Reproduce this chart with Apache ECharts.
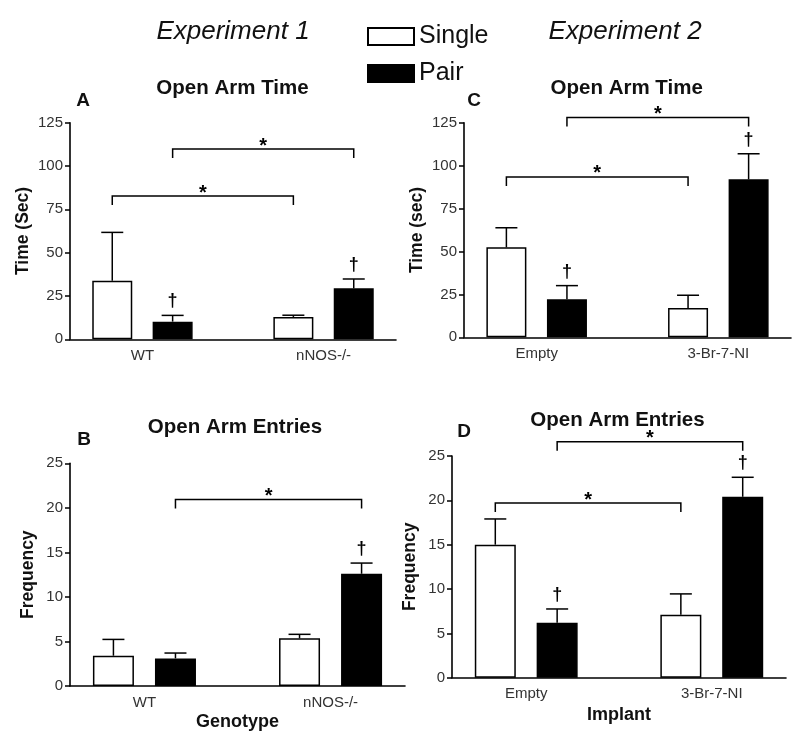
<!DOCTYPE html>
<html>
<head>
<meta charset="utf-8">
<script src="https://cdn.jsdelivr.net/npm/echarts@6/dist/echarts.min.js"></script>
<style>
html,body{margin:0;padding:0;background:#ffffff;}
#chart{width:800px;height:751px;}
</style>
</head>
<body>
<div id="chart"></div>
<script>
// ---------------- DATA ----------------
const seriesNames = ['Single', 'Pair'];
const groupsExp1 = ['WT', 'nNOS-/-'];
const groupsExp2 = ['Empty', '3-Br-7-NI'];

// Panel A – Experiment 1, Open Arm Time (sec)
const timeSingle1 = [33.8, 12.9];
const timeSingleSem1 = [27.9, 1.0];
const timePair1 = [10.2, 29.4];
const timePairSem1 = [3.6, 5.4];
const timeBrackets1 = [['Single', 82.7], ['Pair', 109.8]];
const timeDaggers1 = [['Pair', 0], ['Pair', 1]];

// Panel B – Experiment 1, Open Arm Entries (frequency)
const entrySingle1 = [3.4, 5.35];
const entrySingleSem1 = [1.83, 0.45];
const entryPair1 = [3.1, 12.6];
const entryPairSem1 = [0.6, 1.2];
const entryBrackets1 = [['Pair', 20.95]];
const entryDaggers1 = [['Pair', 1]];

// Panel C – Experiment 2, Open Arm Time (sec)
const timeSingle2 = [52.4, 17.1];
const timeSingleSem2 = [11.4, 7.4];
const timePair2 = [22.1, 92.0];
const timePairSem2 = [8.0, 14.9];
const timeBrackets2 = [['Single', 93.4], ['Pair', 128.1]];
const timeDaggers2 = [['Pair', 0], ['Pair', 1]];

// Panel D – Experiment 2, Open Arm Entries (frequency)
const entrySingle2 = [15.0, 7.1];
const entrySingleSem2 = [2.9, 2.35];
const entryPair2 = [6.2, 20.4];
const entryPairSem2 = [1.55, 2.2];
const entryBrackets2 = [['Single', 19.7], ['Pair', 26.6]];
const entryDaggers2 = [['Pair', 0], ['Pair', 1]];

// y-axis ticks: [min, max, interval]
const timeTicks = [0, 125, 25];
const entryTicks = [0, 25, 5];

// ---------------- LAYOUT ----------------
const FONT = "'Liberation Sans', Arial, Helvetica, sans-serif";
const SLOT = { Single: 0.7, Pair: 1.7 };   // position of each bar inside a group (axis units)
const GROUP_STEP = 3;
const LABEL_AT = 1.2;
const X_MAX = 5.4;
const CAP = 11, DROP = 9;

const panels = [
  { grid: {left: 70, top: 122.7, width: 326, height: 216.6}, groups: groupsExp1,
    single: timeSingle1, singleSem: timeSingleSem1, pair: timePair1, pairSem: timePairSem1,
    brackets: timeBrackets1, daggers: timeDaggers1, ticks: timeTicks,
    yName: 'Time (Sec)', yGap: 38, xName: '', xGap: 0, barWidth: 40 },
  { grid: {left: 70, top: 463.3, width: 335, height: 222.7}, groups: groupsExp1,
    single: entrySingle1, singleSem: entrySingleSem1, pair: entryPair1, pairSem: entryPairSem1,
    brackets: entryBrackets1, daggers: entryDaggers1, ticks: entryTicks,
    yName: 'Frequency', yGap: 33, xName: 'Genotype', xGap: 27, barWidth: 41 },
  { grid: {left: 464, top: 122.7, width: 327, height: 214.6}, groups: groupsExp2,
    single: timeSingle2, singleSem: timeSingleSem2, pair: timePair2, pairSem: timePairSem2,
    brackets: timeBrackets2, daggers: timeDaggers2, ticks: timeTicks,
    yName: 'Time (sec)', yGap: 38, xName: '', xGap: 0, barWidth: 40 },
  { grid: {left: 452, top: 456, width: 334, height: 221.7}, groups: groupsExp2,
    single: entrySingle2, singleSem: entrySingleSem2, pair: entryPair2, pairSem: entryPairSem2,
    brackets: entryBrackets2, daggers: entryDaggers2, ticks: entryTicks,
    yName: 'Frequency', yGap: 33, xName: 'Implant', xGap: 28, barWidth: 41 }
];

const xPos = (name, g) => g * GROUP_STEP + SLOT[name];

const grids = [], xAxes = [], yAxes = [], series = [];

panels.forEach((p, i) => {
  grids.push(Object.assign({ containLabel: false }, p.grid));
  const groups = p.groups;
  // visible x axis (Single series + labels)
  xAxes.push({
    type: 'value', gridIndex: i, min: 0, max: X_MAX,
    axisLine: { show: true, onZero: false, lineStyle: { color: '#000', width: 1.6 } },
    axisTick: { show: false },
    splitLine: { show: false },
    axisLabel: {
      customValues: groups.map((_, g) => g * GROUP_STEP + LABEL_AT),
      formatter: v => groups[Math.round((v - LABEL_AT) / GROUP_STEP)] || '',
      color: '#333', fontSize: 15, fontFamily: FONT, margin: 9
    },
    name: p.xName, nameLocation: 'middle', nameGap: p.xGap,
    nameTextStyle: { fontSize: 18, fontWeight: 'bold', color: '#111', fontFamily: FONT }
  });
  // hidden companion x axis (Pair series), same scale
  xAxes.push({
    type: 'value', gridIndex: i, min: 0, max: X_MAX, show: false, position: 'top',
    splitLine: { show: false }
  });
  yAxes.push({
    type: 'value', gridIndex: i, min: p.ticks[0], max: p.ticks[1], interval: p.ticks[2],
    axisLine: { show: true, onZero: false, lineStyle: { color: '#000', width: 1.6 } },
    axisTick: { show: true, length: 5, lineStyle: { color: '#000', width: 1.5 } },
    splitLine: { show: false },
    axisLabel: { color: '#333', fontSize: 15, fontFamily: FONT, margin: 7 },
    name: p.yName, nameLocation: 'middle', nameGap: p.yGap,
    nameTextStyle: { fontSize: 17.5, fontWeight: 'bold', color: '#111', fontFamily: FONT }
  });

  const sets = {
    Single: { vals: p.single, sem: p.singleSem, fill: '#ffffff', axis: 2 * i },
    Pair: { vals: p.pair, sem: p.pairSem, fill: '#000000', axis: 2 * i + 1 }
  };

  seriesNames.forEach(name => {
    const s = sets[name];
    series.push({
      type: 'bar', name: name, xAxisIndex: s.axis, yAxisIndex: i,
      barWidth: p.barWidth, z: 2,
      itemStyle: { color: s.fill, borderColor: '#000', borderWidth: 1.5 },
      data: s.vals.map((v, g) => [xPos(name, g), v])
    });
  });

  // error bars (upper only)
  const errData = [];
  seriesNames.forEach(name => {
    const s = sets[name];
    s.vals.forEach((v, g) => errData.push([xPos(name, g), v, s.sem[g]]));
  });
  series.push({
    type: 'custom', name: 'error', xAxisIndex: 2 * i, yAxisIndex: i, z: 3, clip: false,
    encode: { x: 0, y: 1 }, silent: true,
    data: errData,
    renderItem: (params, api) => {
      const x = api.value(0), m = api.value(1), e = api.value(2);
      const p0 = api.coord([x, m]), p1 = api.coord([x, m + e]);
      const st = { stroke: '#000', lineWidth: 1.5 };
      return { type: 'group', children: [
        { type: 'line', shape: { x1: p0[0], y1: p0[1], x2: p1[0], y2: p1[1] }, style: st },
        { type: 'line', shape: { x1: p1[0] - CAP, y1: p1[1], x2: p1[0] + CAP, y2: p1[1] }, style: st }
      ]};
    }
  });

  // significance brackets (*)
  series.push({
    type: 'custom', name: 'bracket', xAxisIndex: 2 * i, yAxisIndex: i, z: 3, clip: false,
    encode: { x: [0, 1], y: 2 }, silent: true,
    data: p.brackets.map(b => [xPos(b[0], 0), xPos(b[0], 1), b[1]]),
    renderItem: (params, api) => {
      const a = api.coord([api.value(0), api.value(2)]);
      const b = api.coord([api.value(1), api.value(2)]);
      return { type: 'group', children: [
        { type: 'polyline', shape: { points: [[a[0], a[1] + DROP], [a[0], a[1]], [b[0], b[1]], [b[0], b[1] + DROP]] },
          style: { stroke: '#000', lineWidth: 1.5, fill: null } },
        { type: 'text', x: (a[0] + b[0]) / 2, y: a[1] - 3,
          style: { text: '*', fill: '#000', font: 'bold 20px ' + FONT, align: 'center', verticalAlign: 'middle' } }
      ]};
    }
  });

  // daggers (†)
  series.push({
    type: 'custom', name: 'dagger', xAxisIndex: 2 * i, yAxisIndex: i, z: 3, clip: false,
    encode: { x: 0, y: 1 }, silent: true,
    data: p.daggers.map(d => {
      const s = sets[d[0]];
      return [xPos(d[0], d[1]), s.vals[d[1]] + s.sem[d[1]]];
    }),
    renderItem: (params, api) => {
      const c = api.coord([api.value(0), api.value(1)]);
      return { type: 'text', x: c[0], y: c[1] - 14,
        style: { text: '\u2020', fill: '#000', font: 'bold 18px ' + FONT, align: 'center', verticalAlign: 'middle' } };
    }
  });
});

const txt = (text, x, y, font) => ({
  type: 'text', x: x, y: y, silent: true,
  style: { text: text, fill: '#111', font: font, align: 'center', verticalAlign: 'middle' }
});

const option = {
  backgroundColor: '#ffffff',
  animation: false,
  legend: {
    data: seriesNames, orient: 'vertical', left: 367, top: 24, padding: 0,
    itemWidth: 46, itemHeight: 17, itemGap: 12, icon: 'rect', selectedMode: false,
    textStyle: { fontSize: 25, color: '#111', fontFamily: FONT }
  },
  grid: grids,
  xAxis: xAxes,
  yAxis: yAxes,
  series: series,
  graphic: [
    txt('Experiment 1', 233, 32, 'italic 26px ' + FONT),
    txt('Experiment 2', 625, 32, 'italic 26px ' + FONT),
    txt('Open Arm Time', 232.5, 88, 'bold 20.5px ' + FONT),
    txt('Open Arm Time', 626.7, 88, 'bold 20.5px ' + FONT),
    txt('Open Arm Entries', 235, 427, 'bold 20.5px ' + FONT),
    txt('Open Arm Entries', 617.5, 420, 'bold 20.5px ' + FONT),
    txt('A', 83, 101, 'bold 19px ' + FONT),
    txt('C', 474, 101, 'bold 19px ' + FONT),
    txt('B', 84, 440, 'bold 19px ' + FONT),
    txt('D', 464, 432, 'bold 19px ' + FONT)
  ]
};

const chart = echarts.init(document.getElementById('chart'), null, { renderer: 'canvas' });
chart.setOption(option);
</script>
</body>
</html>
